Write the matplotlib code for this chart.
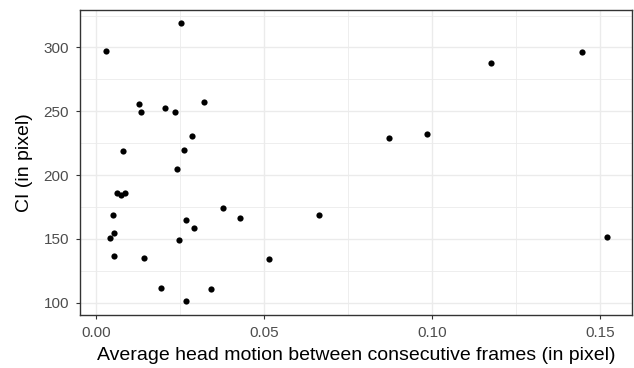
import matplotlib.pyplot as plt
from matplotlib.ticker import MultipleLocator

plt.rcParams['font.family'] = ['Liberation Sans', 'DejaVu Sans']

# head motion (x) and CI (y)
motion = [0.0027, 0.0251, 0.0126, 0.0133, 0.0205, 0.0233, 0.0321, 0.0080,
          0.0285, 0.0259, 0.0241, 0.0060, 0.0072, 0.0085, 0.0048, 0.0053,
          0.0041, 0.0051, 0.0142, 0.0193, 0.0265, 0.0247, 0.0265, 0.0290,
          0.0376, 0.0427, 0.0342, 0.0513, 0.0663, 0.1519, 0.0871, 0.0985,
          0.1175, 0.1444]
ci = [297.3, 319.1, 255.3, 249.4, 252.2, 249.6, 257.2, 219.1,
      230.6, 219.9, 204.8, 185.8, 184.5, 185.8, 168.9, 154.8,
      150.4, 136.6, 135.3, 111.6, 101.6, 149.4, 165.0, 158.5,
      174.1, 166.0, 111.1, 134.0, 168.9, 151.7, 228.8, 232.2,
      288.1, 296.5]

xticks = [0.00, 0.05, 0.10, 0.15]
xtick_labels = ['0.00', '0.05', '0.10', '0.15']
yticks = [100, 150, 200, 250, 300]

W, H = 634, 368
fig = plt.figure(figsize=(W / 100, H / 100), dpi=100)
ax = fig.add_axes([80.5 / W, (H - 315) / H, (632 - 80.5) / W, (315 - 9.5) / H])

ax.scatter(motion, ci, s=20, color='black', linewidths=0, zorder=3)

ax.set_xlim(-0.00476, 0.1594)
ax.set_ylim(90.4, 329.7)
ax.set_xticks(xticks)
ax.set_xticklabels(xtick_labels)
ax.set_yticks(yticks)
ax.xaxis.set_minor_locator(MultipleLocator(0.025))
ax.yaxis.set_minor_locator(MultipleLocator(25))

# theme_bw look
ax.grid(which='major', color='#EBEBEB', linewidth=1.0, zorder=0)
ax.grid(which='minor', color='#EBEBEB', linewidth=0.6, zorder=0)
ax.set_axisbelow(True)
for s in ax.spines.values():
    s.set_color('#333333')
    s.set_linewidth(1.0)
ax.tick_params(which='major', length=2.8, width=0.8, color='#333333',
               labelcolor='#4D4D4D', labelsize=11, pad=5.5)
ax.tick_params(axis='x', which='major', pad=5)
ax.tick_params(which='minor', length=0)

ax.set_xlabel('Average head motion between consecutive frames (in pixel)',
              fontsize=14, labelpad=5.5)
ax.set_ylabel('CI (in pixel)', fontsize=14, labelpad=7.5)

fig.savefig('out.png', dpi=100)
